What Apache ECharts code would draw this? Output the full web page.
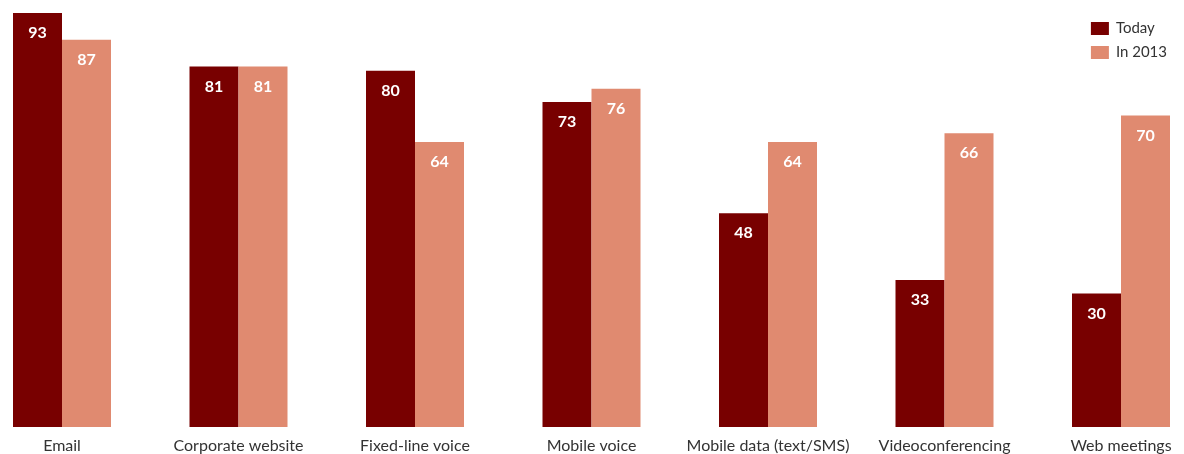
<!DOCTYPE html>
<html>
<head>
<meta charset="utf-8">
<style>
  html, body { margin: 0; padding: 0; background: #ffffff; }
  #chart { width: 1184px; height: 454px; }
</style>
<script src="https://cdn.jsdelivr.net/npm/echarts@6/dist/echarts.min.js"></script>
</head>
<body>
<div id="chart"></div>
<script>
// Share of respondents using each communication channel
const categories = ['Email', 'Corporate website', 'Fixed-line voice', 'Mobile voice',
  'Mobile data (text/SMS)', 'Videoconferencing', 'Web meetings'];
const today = [93, 81, 80, 73, 48, 33, 30];
const in2013 = [87, 81, 64, 76, 64, 66, 70];
const seriesNames = ['Today', 'In 2013'];

const FONT = 'Lato, "Noto Sans", sans-serif';
const DARK = '#780000';
const SALMON = '#e08a70';

const valueLabel = {
  show: true,
  position: 'insideTop',
  distance: 12,
  color: '#ffffff',
  fontFamily: FONT,
  fontWeight: 'bold',
  fontSize: 16
};

const chart = echarts.init(document.getElementById('chart'), null, { renderer: 'canvas' });
chart.setOption({
  animation: false,
  backgroundColor: '#ffffff',
  legend: {
    orient: 'vertical',
    right: 12,
    top: 16,
    itemWidth: 18,
    itemHeight: 13,
    itemGap: 9,
    icon: 'rect',
    textStyle: { fontFamily: FONT, fontSize: 15, color: '#333333', padding: [0, 0, 0, 2] },
    data: seriesNames
  },
  grid: { left: 62, right: 63, top: 13, bottom: 26, containLabel: false },
  xAxis: {
    type: 'category',
    data: categories,
    boundaryGap: false,
    axisLine: { show: false },
    axisTick: { show: false },
    axisLabel: {
      interval: 0,
      margin: 11,
      color: '#333333',
      fontFamily: FONT,
      fontSize: 16
    },
    splitLine: { show: false }
  },
  yAxis: {
    type: 'value',
    min: 0,
    max: 93,
    show: false,
    splitLine: { show: false }
  },
  series: [
    {
      name: seriesNames[0],
      type: 'bar',
      data: today,
      barWidth: 49,
      barGap: '0%',
      clip: false,
      itemStyle: { color: DARK },
      label: valueLabel
    },
    {
      name: seriesNames[1],
      type: 'bar',
      data: in2013,
      barWidth: 49,
      barGap: '0%',
      clip: false,
      itemStyle: { color: SALMON },
      label: valueLabel
    }
  ]
});
</script>
</body>
</html>
